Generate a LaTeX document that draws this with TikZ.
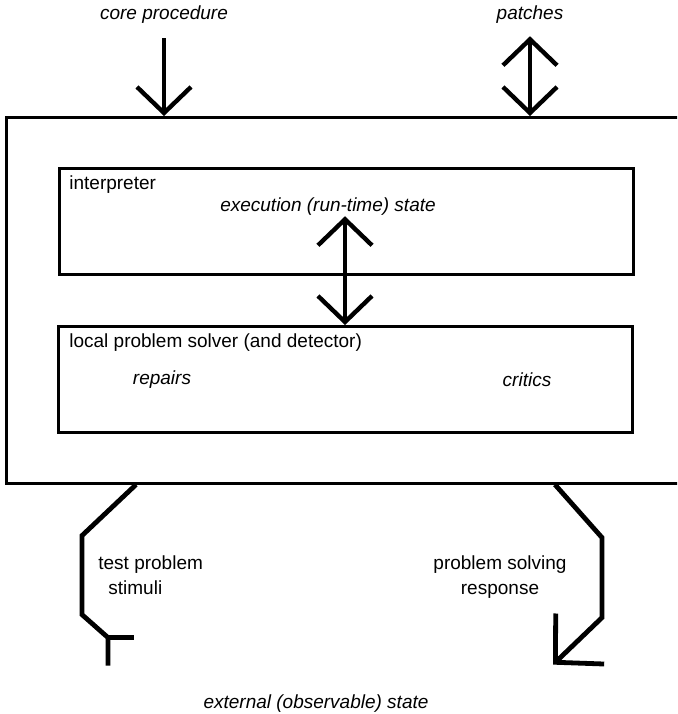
\documentclass[tikz,border=0pt]{standalone}
\usepackage{fontspec}
\setmainfont{Liberation Sans}
\usetikzlibrary{arrows.meta}
\usetikzlibrary{calc}

\begin{document}
\begin{tikzpicture}[x=0.5pt,y=-0.5pt,
    font=\fontsize{9.5}{12.5}\selectfont,
    box/.style={draw, line width=1.3pt, anchor=north west, inner sep=0pt},
    tag/.style={font=\fontsize{9.5}{12.5}\selectfont\itshape, inner sep=0pt},
    txt/.style={anchor=west, inner sep=0pt},
    flow/.style={line width=2.2pt, -{Straight Barb[length=13pt,width=27pt]}},
    both/.style={line width=2.2pt, {Straight Barb[length=13pt,width=27pt]}-{Straight Barb[length=13pt,width=27pt]}},
    wire/.style={line width=2.4pt, line join=miter}]
  \useasboundingbox (0,0) rectangle (677,714);
  \clip (0,0) rectangle (677,714);
  % boxes
  \node[box, minimum width=350pt, minimum height=183pt] (system) at (5,116) {};
  \node[box, minimum width=287pt, minimum height=53pt] (interp) at (58,167) {};
  \node[box, minimum width=287pt, minimum height=53pt] (solver) at (57,325) {};
  % texts
  \node[tag] (core) at (164,15) {core procedure};
  \node[tag] (patches) at (530,15) {patches};
  \node[txt] (interpLbl) at (69,185) {interpreter};
  \node[tag] (exec) at (328,207) {execution (run-time) state};
  \node[txt] (solverLbl) at (69,343) {local problem solver (and detector)};
  \node[tag] (repairs) at (162,380) {repairs};
  \node[tag] (critics) at (527,380) {critics};
  \node[txt, align=left] (stimuli) at (98,575) {test problem\\\hspace*{5pt}stimuli};
  \node[align=center, inner sep=0pt] (response) at (500,577) {problem solving\\response};
  \node[tag] (external) at (316,704) {external (observable) state};
  % arrows
  \draw[flow, shorten <=7pt] (core.south) -- (core.south |- system.north);
  \draw[both, shorten <=6pt] (patches.south) -- (patches.south |- system.north);
  \coordinate (link) at ($(solver.north west)+(288,0)$);
  \draw[both] (link |- exec.south) -- (link);
  % outside world
  \draw[wire] ($(system.south west)+(131,0)$) -- ++(-54,51) -- ++(0,79) -- ++(26,23) coordinate (tee) -- ++(0,28);
  \draw[wire] (tee) -- ++(26,0);
  \draw[wire, -{Straight Barb[length=17pt,width=35pt]}] ($(system.south west)+(550,0)$) -- ++(47,53) -- ++(0,80) -- ++(-49,47);
\end{tikzpicture}
\end{document}
